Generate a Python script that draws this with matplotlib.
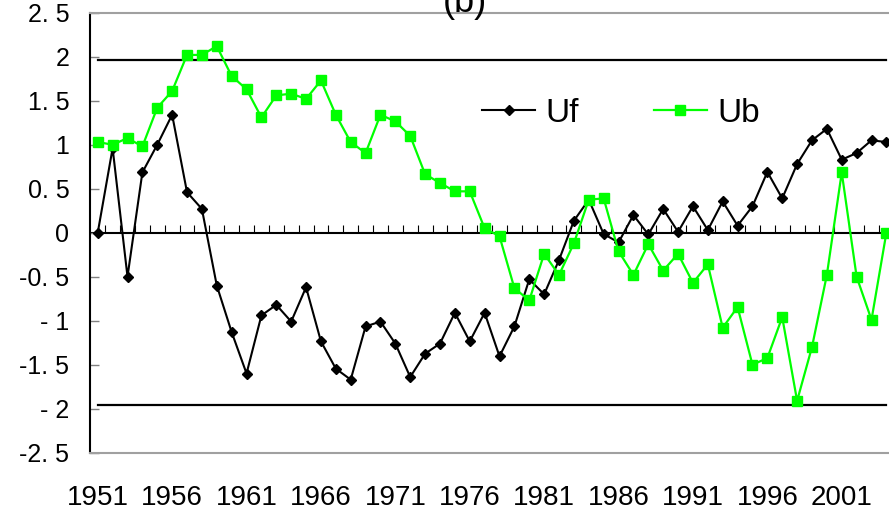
import matplotlib
matplotlib.use("Agg")
import matplotlib.pyplot as plt

plt.rcParams['font.family'] = ['Liberation Sans', 'DejaVu Sans']

years = list(range(1951, 2005))
uf = [0, 0.96, -0.50, 0.685, 1.0, 1.34, 0.46, 0.27, -0.60, -1.13,
      -1.60, -0.94, -0.82, -1.01, -0.62, -1.235, -1.545, -1.67, -1.065, -1.01,
      -1.26, -1.64, -1.375, -1.26, -0.91, -1.235, -0.91, -1.405, -1.065, -0.53,
      -0.70, -0.31, 0.136, 0.375, -0.015, -0.11, 0.20, -0.02, 0.27, 0.01,
      0.30, 0.03, 0.355, 0.08, 0.30, 0.69, 0.39, 0.78, 1.05, 1.18,
      0.83, 0.905, 1.05, 1.03]
ub = [1.03, 1.0, 1.075, 0.98, 1.42, 1.61, 2.02, 2.02, 2.12, 1.78,
      1.63, 1.31, 1.56, 1.58, 1.52, 1.73, 1.34, 1.03, 0.905, 1.34,
      1.265, 1.10, 0.665, 0.565, 0.47, 0.47, 0.05, -0.04, -0.63, -0.77,
      -0.24, -0.48, -0.12, 0.375, 0.39, -0.21, -0.48, -0.13, -0.43, -0.24,
      -0.57, -0.36, -1.08, -0.845, -1.50, -1.425, -0.96, -1.91, -1.30, -0.48,
      0.685, -0.50, -0.99, 0.0]
crit = 1.96  # 95% significance level

ytick_vals = [2.5, 2, 1.5, 1, 0.5, 0, -0.5, -1, -1.5, -2, -2.5]
ytick_text = ["2. 5", "2", "1. 5", "1", "0. 5", "0", "-0. 5", "- 1", "-1. 5", "- 2", "-2. 5"]
xtick_years = years[::5]

W, H = 889, 511
fig = plt.figure(figsize=(W / 100, H / 100), dpi=100)
# axes runs past the right edge, like the cropped original
ax = fig.add_axes([90.3 / W, (H - 452.7) / H, 54 * 14.88 / W, 440 / H])

ax.plot(years, [crit] * len(years), color='black', lw=1.6)
ax.plot(years, [-crit] * len(years), color='black', lw=1.6)

# category axis crossing at zero, small ticks between the years
ax.axhline(0, color='black', lw=1.5, zorder=1.5)
ax.vlines([y + 0.5 for y in years], 0, 0.09, color='black', lw=0.8, zorder=1.5)

ax.plot(years, uf, color='black', lw=1.5, marker='D', ms=5.2,
        mfc='black', mec='black', label='Uf', zorder=3)
ax.plot(years, ub, color='#00ff00', lw=1.6, marker='s', ms=6.8,
        mfc='#00ff00', mec='#00ff00', label='Ub', zorder=3)

ax.set_xlim(1950.5, 2004.5)
ax.set_ylim(-2.5, 2.5)

ax.set_yticks(ytick_vals)
ax.set_yticklabels(ytick_text, fontsize=18)
ax.tick_params(axis='y', direction='in', length=6.5, width=1,
               color='#808080', pad=15)

ax.set_xticks(xtick_years)
ax.set_xticklabels([str(y) for y in xtick_years], fontsize=20)
ax.tick_params(axis='x', length=0, pad=23)

ax.spines['left'].set_color('black')
ax.spines['left'].set_linewidth(1.5)
for s in ['top', 'bottom']:
    ax.spines[s].set_color('#a0a0a0')
    ax.spines[s].set_linewidth(1.5)
ax.spines['right'].set_visible(False)

ax.legend(loc='center left', bbox_to_anchor=(482 / W, 1 - 113 / H),
          bbox_transform=fig.transFigure, ncol=2, frameon=False,
          fontsize=24, borderpad=0, borderaxespad=0,
          handlelength=1.6, handletextpad=0.3, columnspacing=2.25)

fig.text(465 / W, 1 - 12 / H, "(b)", fontsize=26, ha='center', va='baseline')

fig.savefig("out.png", dpi=100)
